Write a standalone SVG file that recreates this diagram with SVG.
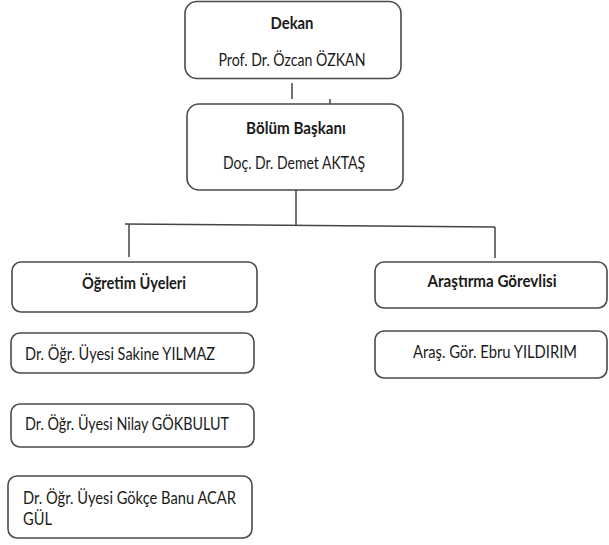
<svg xmlns="http://www.w3.org/2000/svg" width="609" height="545" viewBox="0 0 609 545">
<style>
.box{fill:#fff;stroke:#4a4a4a;stroke-width:1.6}
.ln{stroke:#444;stroke-width:1.5;fill:none}
.t{font-family:Lato,"Liberation Sans",sans-serif;font-size:17px;fill:#1a1a1a}
.b{font-weight:bold}
.c{text-anchor:middle}
</style>
<rect width="609" height="545" fill="#fff"/>
<g id="connectors">
<line class="ln" x1="292" y1="83" x2="292" y2="99"/>
<line class="ln" x1="330" y1="99" x2="330" y2="122"/>
<line class="ln" x1="296" y1="190" x2="296" y2="225"/>
<line class="ln" x1="125" y1="224" x2="495" y2="227"/>
<line class="ln" x1="129" y1="224" x2="129" y2="257"/>
<line class="ln" x1="495" y1="227" x2="495" y2="258"/>
</g>
<g id="dekan">
<rect class="box" x="185" y="1.5" width="216" height="77" rx="12"/>
<text class="t b c" x="292" y="29" textLength="43" lengthAdjust="spacingAndGlyphs">Dekan</text>
<text class="t c" x="292" y="66" textLength="147" lengthAdjust="spacingAndGlyphs">Prof. Dr. Özcan ÖZKAN</text>
</g>
<g id="bolum-baskani">
<rect class="box" x="187" y="104" width="216" height="86" rx="12"/>
<text class="t b c" x="296" y="134" textLength="100" lengthAdjust="spacingAndGlyphs">Bölüm Başkanı</text>
<text class="t c" x="294" y="169" textLength="142" lengthAdjust="spacingAndGlyphs">Doç. Dr. Demet AKTAŞ</text>
</g>
<g id="ogretim-uyeleri">
<rect class="box" x="12" y="262" width="245" height="50" rx="9"/>
<text class="t b c" x="134" y="289" textLength="104" lengthAdjust="spacingAndGlyphs">Öğretim Üyeleri</text>
</g>
<g id="arastirma-gorevlisi">
<rect class="box" x="375" y="262" width="232" height="46" rx="9"/>
<text class="t b c" x="492" y="287" textLength="129" lengthAdjust="spacingAndGlyphs">Araştırma Görevlisi</text>
</g>
<g id="sakine">
<rect class="box" x="11" y="333" width="243" height="40" rx="9"/>
<text class="t" x="25" y="360" textLength="190" lengthAdjust="spacingAndGlyphs">Dr. Öğr. Üyesi Sakine YILMAZ</text>
</g>
<g id="nilay">
<rect class="box" x="11" y="404" width="243" height="43" rx="9"/>
<text class="t" x="25" y="430" textLength="204" lengthAdjust="spacingAndGlyphs">Dr. Öğr. Üyesi Nilay GÖKBULUT</text>
</g>
<g id="gokce">
<rect class="box" x="8" y="476" width="244" height="62" rx="9"/>
<text class="t" x="23" y="504" textLength="213" lengthAdjust="spacingAndGlyphs">Dr. Öğr. Üyesi Gökçe Banu ACAR</text>
<text class="t" x="23" y="525" textLength="29" lengthAdjust="spacingAndGlyphs">GÜL</text>
</g>
<g id="ebru">
<rect class="box" x="375" y="331" width="232" height="47" rx="9"/>
<text class="t c" x="495" y="358" textLength="164" lengthAdjust="spacingAndGlyphs">Araş. Gör. Ebru YILDIRIM</text>
</g>
</svg>
